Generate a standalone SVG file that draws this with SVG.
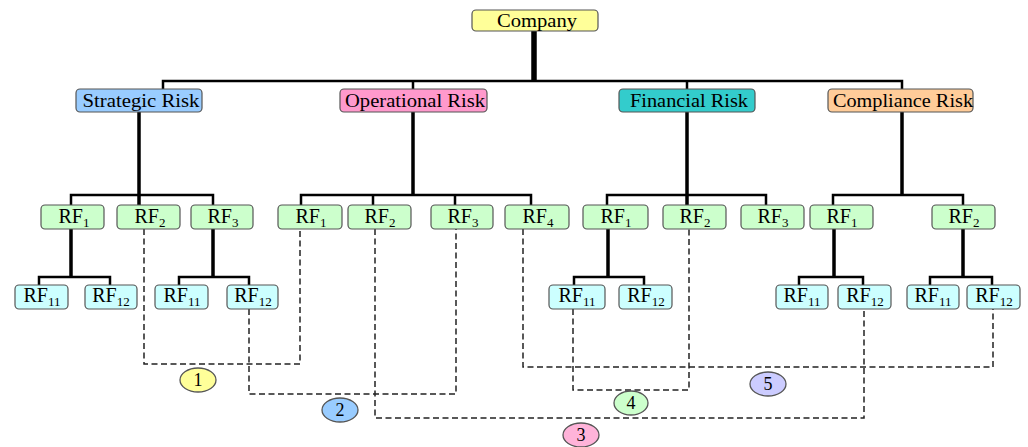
<svg xmlns="http://www.w3.org/2000/svg" width="1028" height="447" viewBox="0 0 1028 447">
<style>
.box{stroke:#555;stroke-width:1.2}
.t{font-family:"Liberation Serif","Times New Roman",serif;fill:#000}
.cat{font-size:19px}
.rf{font-size:20px;text-anchor:middle}
.sub{font-size:13px}
.ln{stroke:#000;fill:none;stroke-width:2.5}
.thk{stroke:#000;fill:none;stroke-width:3.5}
.dash{stroke:#222;fill:none;stroke-width:1.5;stroke-dasharray:6 3.5}
.g{fill:#ccffcc}
.c{fill:#ccffff}
.lab{stroke:#555;stroke-width:1.3}
.num{font-size:18px;text-anchor:middle}
</style>
<rect width="1028" height="447" fill="#fff"/>
<g id="connectors">
  <line x1="534" y1="31" x2="534" y2="81" stroke="#000" stroke-width="5.5"/>
  <path class="ln" d="M163 89 V81 H902 V89 M413 81 V89 M687 81 V89"/>
  <path class="thk" d="M139 112 V205 M413 112 V195 M687 112 V205 M902 112 V195"/>
  <path class="ln" d="M71 205 V195 H213 V205 M301 205 V195 H531 V205 M373 195 V205 M455 195 V205 M607 205 V195 H766 V205 M833 205 V195 H963 V205"/>
  <path class="thk" d="M71 229 V277 M213 229 V277 M608 229 V277 M834 229 V277 M963 229 V277"/>
  <path class="ln" d="M39 285 V277 H110 V285 M179 285 V277 H249 V285 M574 285 V277 H644 V285 M799 285 V277 H863 V285 M930 285 V277 H992 V285"/>
  <path class="dash" d="M144 229 V364 H300 V229"/>
  <path class="dash" d="M249 309 V394 H456 V229"/>
  <path class="dash" d="M375 229 V418 H864 V309"/>
  <path class="dash" d="M573 309 V390 H689 V229"/>
  <path class="dash" d="M523 229 V367 H993 V309"/>
</g>
<g id="company"><rect class="box" x="472" y="10" width="126" height="21" rx="4" fill="#ffff99"/><text class="t cat" x="537" y="27" text-anchor="middle" textLength="80" lengthAdjust="spacingAndGlyphs">Company</text></g>
<g id="strategic"><rect class="box" x="76" y="89" width="126" height="23" rx="4" fill="#99ccff"/><text class="t cat" x="141" y="107" text-anchor="middle" textLength="117" lengthAdjust="spacingAndGlyphs">Strategic Risk</text></g>
<g id="operational"><rect class="box" x="340" y="89" width="147" height="23" rx="4" fill="#ff99cc"/><text class="t cat" x="415" y="107" text-anchor="middle" textLength="140" lengthAdjust="spacingAndGlyphs">Operational Risk</text></g>
<g id="financial"><rect class="box" x="619" y="89" width="136" height="23" rx="4" fill="#33cccc"/><text class="t cat" x="689" y="107" text-anchor="middle" textLength="118" lengthAdjust="spacingAndGlyphs">Financial Risk</text></g>
<g id="compliance"><rect class="box" x="828" y="89" width="145" height="23" rx="4" fill="#ffcc99"/><text class="t cat" x="903" y="107" text-anchor="middle" textLength="140" lengthAdjust="spacingAndGlyphs">Compliance Risk</text></g>

<g id="s-rf1"><rect class="box g" x="41" y="205" width="63" height="24" rx="4"/><text class="t rf" x="74" y="223">RF<tspan class="sub" dy="4">1</tspan></text></g>
<g id="s-rf2"><rect class="box g" x="117" y="205" width="63" height="24" rx="4"/><text class="t rf" x="150" y="223">RF<tspan class="sub" dy="4">2</tspan></text></g>
<g id="s-rf3"><rect class="box g" x="191" y="205" width="62" height="24" rx="4"/><text class="t rf" x="223" y="223">RF<tspan class="sub" dy="4">3</tspan></text></g>
<g id="o-rf1"><rect class="box g" x="278" y="205" width="64" height="24" rx="4"/><text class="t rf" x="311" y="223">RF<tspan class="sub" dy="4">1</tspan></text></g>
<g id="o-rf2"><rect class="box g" x="348" y="205" width="63" height="24" rx="4"/><text class="t rf" x="380" y="223">RF<tspan class="sub" dy="4">2</tspan></text></g>
<g id="o-rf3"><rect class="box g" x="431" y="205" width="62" height="24" rx="4"/><text class="t rf" x="463" y="223">RF<tspan class="sub" dy="4">3</tspan></text></g>
<g id="o-rf4"><rect class="box g" x="505" y="205" width="64" height="24" rx="4"/><text class="t rf" x="538" y="223">RF<tspan class="sub" dy="4">4</tspan></text></g>
<g id="f-rf1"><rect class="box g" x="583" y="205" width="65" height="24" rx="4"/><text class="t rf" x="616" y="223">RF<tspan class="sub" dy="4">1</tspan></text></g>
<g id="f-rf2"><rect class="box g" x="663" y="205" width="63" height="24" rx="4"/><text class="t rf" x="695" y="223">RF<tspan class="sub" dy="4">2</tspan></text></g>
<g id="f-rf3"><rect class="box g" x="741" y="205" width="63" height="24" rx="4"/><text class="t rf" x="773" y="223">RF<tspan class="sub" dy="4">3</tspan></text></g>
<g id="c-rf1"><rect class="box g" x="810" y="205" width="63" height="24" rx="4"/><text class="t rf" x="842" y="223">RF<tspan class="sub" dy="4">1</tspan></text></g>
<g id="c-rf2"><rect class="box g" x="932" y="205" width="63" height="24" rx="4"/><text class="t rf" x="964" y="223">RF<tspan class="sub" dy="4">2</tspan></text></g>

<g id="s-rf11"><rect class="box c" x="15" y="285" width="53" height="24" rx="4"/><text class="t rf" x="42" y="302">RF<tspan class="sub" dy="4">11</tspan></text></g>
<g id="s-rf12"><rect class="box c" x="85" y="285" width="52" height="24" rx="4"/><text class="t rf" x="111" y="302">RF<tspan class="sub" dy="4">12</tspan></text></g>
<g id="s-rf31"><rect class="box c" x="155" y="285" width="53" height="24" rx="4"/><text class="t rf" x="182" y="302">RF<tspan class="sub" dy="4">11</tspan></text></g>
<g id="s-rf32"><rect class="box c" x="227" y="285" width="51" height="24" rx="4"/><text class="t rf" x="253" y="302">RF<tspan class="sub" dy="4">12</tspan></text></g>
<g id="f-rf11"><rect class="box c" x="549" y="285" width="56" height="24" rx="4"/><text class="t rf" x="577" y="302">RF<tspan class="sub" dy="4">11</tspan></text></g>
<g id="f-rf12"><rect class="box c" x="619" y="285" width="53" height="24" rx="4"/><text class="t rf" x="646" y="302">RF<tspan class="sub" dy="4">12</tspan></text></g>
<g id="c-rf11"><rect class="box c" x="776" y="285" width="52" height="24" rx="4"/><text class="t rf" x="802" y="302">RF<tspan class="sub" dy="4">11</tspan></text></g>
<g id="c-rf12"><rect class="box c" x="838" y="285" width="53" height="24" rx="4"/><text class="t rf" x="865" y="302">RF<tspan class="sub" dy="4">12</tspan></text></g>
<g id="c-rf21"><rect class="box c" x="907" y="285" width="52" height="24" rx="4"/><text class="t rf" x="933" y="302">RF<tspan class="sub" dy="4">11</tspan></text></g>
<g id="c-rf22"><rect class="box c" x="967" y="285" width="53" height="24" rx="4"/><text class="t rf" x="994" y="302">RF<tspan class="sub" dy="4">12</tspan></text></g>

<g id="label1"><ellipse class="lab" cx="198" cy="380" rx="18" ry="12" fill="#ffff99"/><text class="t num" x="198" y="386">1</text></g>
<g id="label2"><ellipse class="lab" cx="340" cy="410" rx="18" ry="12" fill="#99ccff"/><text class="t num" x="340" y="416">2</text></g>
<g id="label3"><ellipse class="lab" cx="581" cy="435" rx="18" ry="12" fill="#ffb3d9"/><text class="t num" x="581" y="441">3</text></g>
<g id="label4"><ellipse class="lab" cx="631" cy="403" rx="17" ry="12" fill="#ccffcc"/><text class="t num" x="631" y="409">4</text></g>
<g id="label5"><ellipse class="lab" cx="768" cy="384" rx="18" ry="12" fill="#ccccff"/><text class="t num" x="768" y="390">5</text></g>
</svg>
